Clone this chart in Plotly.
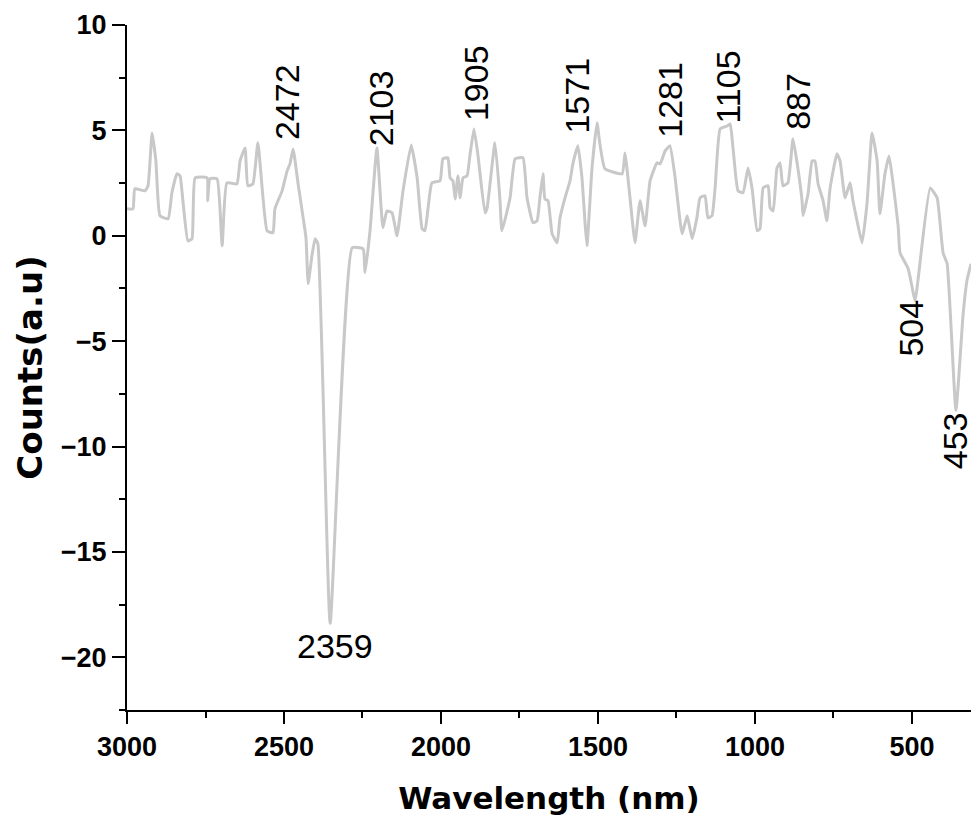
import plotly.graph_objects as go

wavelength = [3000, 2981, 2975, 2943, 2933, 2920, 2908, 2895, 2869, 2857, 2841, 2831, 2822, 2806, 2793,
              2783, 2745, 2743, 2736, 2713, 2697, 2682, 2650, 2640, 2624, 2615, 2599, 2583, 2554, 2535,
              2529, 2506, 2490, 2481, 2471, 2455, 2439, 2430, 2423, 2411, 2401, 2392, 2353, 2283, 2248,
              2242, 2226, 2204, 2185, 2172, 2156, 2140, 2121, 2095, 2076, 2060, 2051, 2041, 2029, 2003,
              1994, 1978, 1971, 1962, 1955, 1946, 1939, 1930, 1917, 1908, 1895, 1882, 1860, 1853, 1828,
              1812, 1806, 1780, 1764, 1739, 1726, 1707, 1694, 1685, 1675, 1669, 1659, 1646, 1630, 1621,
              1605, 1589, 1580, 1564, 1551, 1541, 1535, 1519, 1503, 1494, 1478, 1423, 1414, 1398, 1382,
              1366, 1350, 1334, 1312, 1302, 1286, 1271, 1255, 1232, 1216, 1200, 1185, 1175, 1159, 1150,
              1137, 1127, 1111, 1089, 1079, 1070, 1054, 1038, 1022, 1009, 993, 984, 974, 958, 952,
              942, 930, 920, 911, 895, 879, 866, 850, 847, 831, 818, 809, 799, 783, 771,
              761, 739, 729, 713, 697, 688, 675, 659, 643, 627, 611, 602, 586, 573, 560,
              544, 538, 512, 490, 481, 442, 420, 401, 388, 360, 337, 325, 312]
counts = [1.28, 1.28, 2.23, 2.13, 2.37, 4.88, 3.55, 0.95, 0.81, 2.04, 2.94, 2.84, 1.66, -0.24, -0.14,
          2.75, 2.75, 1.66, 2.70, 2.70, -0.47, 2.51, 2.46, 3.55, 4.17, 2.37, 2.46, 4.41, 0.24, 0.14,
          1.28, 2.13, 3.08, 3.41, 4.12, 2.46, 0.85, -0.09, -2.27, -0.95, -0.14, -0.38, -18.39, -0.57, -0.62,
          -1.75, 0.24, 4.17, 0.38, 1.18, 1.09, 0.0, 2.13, 4.31, 2.75, 0.33, 0.24, 1.33, 2.51, 2.61,
          3.65, 3.70, 2.75, 2.61, 1.75, 2.84, 1.80, 2.75, 2.84, 3.79, 5.07, 3.79, 1.09, 1.33, 4.41,
          1.66, 0.24, 1.80, 3.65, 3.70, 1.80, 0.62, 0.71, 1.80, 2.94, 1.75, 1.66, 0.09, -0.33, 0.85,
          1.80, 2.61, 3.41, 4.27, 2.75, 0.57, -0.47, 3.22, 5.36, 4.36, 3.18, 2.94, 3.93, 1.80, -0.33,
          1.66, 0.47, 2.61, 3.46, 3.41, 4.03, 4.27, 2.84, 0.09, 0.95, -0.14, 0.85, 1.80, 1.90, 0.85,
          0.95, 2.27, 5.07, 5.21, 5.31, 4.17, 2.13, 2.04, 3.22, 2.23, 0.24, 0.33, 2.27, 2.37, 1.33,
          1.18, 3.22, 3.46, 2.37, 2.51, 4.60, 3.46, 1.66, 0.95, 1.99, 3.55, 3.55, 2.46, 1.66, 0.71,
          2.23, 3.89, 3.55, 1.80, 2.51, 1.66, 0.71, -0.33, 1.56, 4.88, 3.55, 1.04, 2.94, 3.79, 2.46,
          0.47, -0.81, -1.56, -3.08, -2.13, 2.27, 1.80, -0.81, -1.33, -8.29, -3.70, -2.13, -1.33]

# peak labels: text, x, y, side ('up' = text above point, 'down' = below)
peak_labels = ["2472", "2103", "1905", "1571", "1281", "1105", "887", "504", "453", "2359"]
peak_x = [2490, 2191, 1888, 1567, 1271, 1086, 863, 506, 363, 2338]
peak_y = [4.5, 4.2, 5.4, 4.8, 4.6, 5.3, 5.0, -3.0, -8.3, -18.5]
peak_side = ["up", "up", "up", "up", "up", "up", "up", "down", "down", "down"]
peak_rot = [-90, -90, -90, -90, -90, -90, -90, -90, -90, 0]

fig = go.Figure()
fig.add_trace(go.Scatter(x=wavelength, y=counts, mode="lines",
                         line=dict(color="#c8c8c8", width=3, shape="spline", smoothing=0.4),
                         showlegend=False))

for t, x, y, s, r in zip(peak_labels, peak_x, peak_y, peak_side, peak_rot):
    fig.add_annotation(x=x, y=y, text=t, showarrow=False, textangle=r,
                       xanchor="center", yanchor="bottom" if s == "up" else "top",
                       font=dict(family="Liberation Sans, Arial, sans-serif", size=34, color="#000"),
                       borderpad=0)

tickfont = dict(family="Liberation Sans, Arial, sans-serif", size=27, color="#000", weight="bold")
fig.update_xaxes(range=[3000, 312], tickmode="linear", tick0=0, dtick=500, automargin=False,
                 ticks="outside", ticklen=12, tickwidth=2, tickcolor="#000",
                 minor=dict(dtick=250, ticks="outside", ticklen=6, tickwidth=2, tickcolor="#000"),
                 showline=True, linewidth=2, linecolor="#000", showgrid=False, zeroline=False,
                 tickfont=tickfont,
                 title=dict(text="Wavelength (nm)", standoff=26,
                            font=dict(family="DejaVu Sans, sans-serif", size=31, color="#000", weight="bold")))
fig.update_yaxes(range=[-22.5, 10], tickmode="linear", tick0=0, dtick=5, automargin=False,
                 ticks="outside", ticklen=13, tickwidth=2, tickcolor="#000",
                 minor=dict(dtick=2.5, ticks="outside", ticklen=6, tickwidth=2, tickcolor="#000"),
                 showline=True, linewidth=2, linecolor="#000", showgrid=False, zeroline=False,
                 tickfont=tickfont,
                 title=dict(text="Counts(a.u)", standoff=8,
                            font=dict(family="DejaVu Sans, sans-serif", size=34, color="#000", weight="bold")))

fig.update_layout(width=971, height=824, margin=dict(l=127, r=0, t=25, b=114),
                  plot_bgcolor="white", paper_bgcolor="white")

fig.write_html("out.html", config={"displayModeBar": False},
               post_script="document.body.style.margin='0';document.body.style.overflow='hidden';")
